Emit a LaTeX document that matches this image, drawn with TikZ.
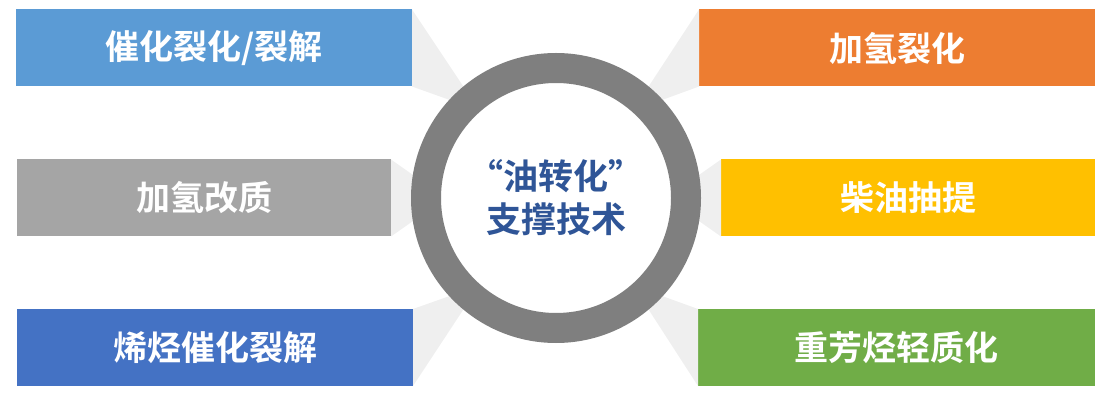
\documentclass[tikz,border=0pt]{standalone}
\usepackage{fontspec}
\newfontfamily\cjk{Noto Sans CJK SC}[BoldFont={Noto Sans CJK SC Bold}]
\definecolor{cLB}{HTML}{5B9BD5}
\definecolor{cGR}{HTML}{A5A5A5}
\definecolor{cDB}{HTML}{4472C4}
\definecolor{cOR}{HTML}{ED7D31}
\definecolor{cYE}{HTML}{FFC000}
\definecolor{cGN}{HTML}{70AD47}
\definecolor{ring}{HTML}{7F7F7F}
\definecolor{beam}{HTML}{EFEFEF}
\definecolor{ctext}{HTML}{2F5597}
\begin{document}
\begin{tikzpicture}[x=1pt,y=-1pt,
  tbox/.style={rectangle, inner sep=0pt, outer sep=0pt, minimum height=77, text=white,
    font=\cjk\bfseries\fontsize{34}{40}\selectfont},
  beamfill/.style={fill=beam, draw=none}]
\useasboundingbox (0,0) rectangle (1117,406);
% boxes
\node[tbox, fill=cLB, minimum width=396] (b1) at (214,48) {催化裂化/裂解};
\node[tbox, fill=cGR, minimum width=374] (b2) at (204,198) {加氢改质};
\node[tbox, fill=cDB, minimum width=396] (b3) at (215,347.5) {烯烃催化裂解};
\node[tbox, fill=cOR, minimum width=396] (b4) at (897,48) {加氢裂化};
\node[tbox, fill=cYE, minimum width=374] (b5) at (908,198) {柴油抽提};
\node[tbox, fill=cGN, minimum width=397] (b6) at (896.5,347.5) {重芳烃轻质化};
% beam tips
\coordinate (t1a) at (467,92);  \coordinate (t1b) at (461,104);
\coordinate (t2a) at (423,182); \coordinate (t2b) at (423,214);
\coordinate (t3a) at (461,292); \coordinate (t3b) at (467,304);
\coordinate (t4a) at (645,92);  \coordinate (t4b) at (651,104);
\coordinate (t5a) at (689,182); \coordinate (t5b) at (689,214);
\coordinate (t6a) at (651,292); \coordinate (t6b) at (645,304);
\fill[beamfill] (b1.north east) -- (t1a) -- (t1b) -- (b1.south east) -- cycle;
\fill[beamfill] (b2.north east) -- (t2a) -- (t2b) -- (b2.south east) -- cycle;
\fill[beamfill] (b3.north east) -- (t3a) -- (t3b) -- (b3.south east) -- cycle;
\fill[beamfill] (b4.north west) -- (t4a) -- (t4b) -- (b4.south west) -- cycle;
\fill[beamfill] (b5.north west) -- (t5a) -- (t5b) -- (b5.south west) -- cycle;
\fill[beamfill] (b6.north west) -- (t6a) -- (t6b) -- (b6.south west) -- cycle;
% ring
\node[circle, draw=ring, line width=30, fill=white, minimum size=260, inner sep=0pt,
  align=center, text=ctext, font=\cjk\bfseries\fontsize{35}{43}\selectfont] (c) at (556,198)
  {“油转化”\\支撑技术};
\end{tikzpicture}
\end{document}
